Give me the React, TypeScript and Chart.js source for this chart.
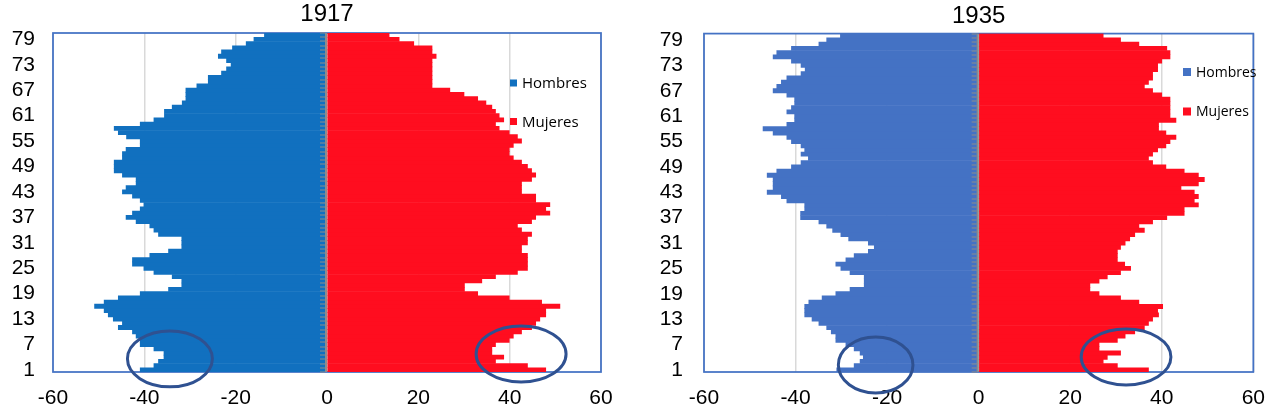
import React, { useEffect, useRef } from 'react';
import { Chart, registerables } from 'chart.js';

Chart.register(...registerables);

// ---- data ----
const ages = [
  '1','2','3','4','5','6','7','8','9','10','11','12','13','14','15','16','17','18','19','20',
  '21','22','23','24','25','26','27','28','29','30','31','32','33','34','35','36','37','38','39','40',
  '41','42','43','44','45','46','47','48','49','50','51','52','53','54','55','56','57','58','59','60',
  '61','62','63','64','65','66','67','68','69','70','71','72','73','74','75','76','77','78','79','80',
];

const hombres1917 = [
  -40.9,-37.9,-36.9,-35.7,-35.7,-37.9,-40.9,-40.9,-41.8,-42.6,
  -45.7,-44.8,-46.8,-47.9,-48.8,-50.9,-48.8,-45.7,-40.9,-34.7,
  -31.8,-31.8,-33.9,-37.9,-40.1,-42.6,-42.6,-38.8,-34.7,-31.8,
  -31.8,-31.8,-36.9,-37.9,-38.8,-41.8,-44.0,-42.6,-40.9,-40.1,
  -40.9,-42.6,-44.8,-44.0,-41.8,-41.8,-44.8,-46.6,-46.6,-46.6,
  -44.8,-44.8,-44.0,-40.9,-40.9,-43.9,-45.7,-46.6,-40.9,-37.9,
  -35.6,-35.6,-33.9,-31.7,-30.9,-30.9,-30.9,-28.5,-26.0,-26.0,
  -23.1,-22.0,-21.0,-22.0,-23.8,-23.1,-20.7,-17.7,-16.0,-13.7,
];

const mujeres1917 = [
  47.9,43.9,36.9,38.7,36.1,36.1,36.9,39.9,40.8,42.6,
  44.8,45.7,46.6,47.9,47.9,51.0,47.0,39.9,33.0,30.1,
  30.1,33.9,36.9,41.7,43.9,43.9,43.9,43.9,42.6,42.6,
  43.9,43.9,44.8,42.6,41.7,44.8,45.7,48.8,47.9,48.8,
  45.7,45.7,42.6,42.6,42.6,44.8,45.7,44.8,43.9,42.6,
  40.8,39.9,39.9,40.8,42.6,41.7,39.9,37.7,36.9,38.7,
  37.7,36.9,36.1,34.8,33.0,30.0,26.9,23.0,23.0,23.0,
  23.0,23.0,23.0,23.0,23.9,23.0,23.0,19.0,15.8,13.6,
];

const hombres1935 = [
  -31.0,-27.2,-25.9,-25.2,-25.9,-27.2,-29.0,-31.2,-31.2,-32.2,
  -33.2,-34.9,-36.4,-38.0,-38.0,-38.0,-37.1,-34.2,-31.2,-28.1,
  -25.0,-25.0,-25.0,-28.1,-30.1,-31.2,-29.0,-27.2,-24.1,-22.8,
  -24.1,-28.4,-30.1,-31.9,-33.2,-34.9,-38.9,-38.9,-38.0,-38.0,
  -41.9,-43.1,-46.2,-44.9,-44.9,-44.9,-46.2,-44.1,-40.9,-38.8,
  -37.2,-38.8,-38.0,-38.8,-40.9,-41.9,-44.9,-47.1,-41.9,-40.2,
  -40.2,-41.9,-40.9,-40.2,-40.2,-41.9,-44.9,-44.1,-43.1,-41.9,
  -38.8,-37.9,-38.8,-40.9,-44.9,-44.1,-40.9,-34.9,-33.2,-30.2,
];

const mujeres1935 = [
  37.1,30.3,27.2,28.1,31.0,26.3,26.3,30.3,32.0,34.1,
  36.2,37.1,38.0,39.3,39.1,40.2,35.0,31.0,26.3,24.3,
  24.3,26.3,28.1,31.0,33.2,31.9,30.3,30.3,30.3,31.0,
  32.0,33.0,34.1,36.2,35.0,38.0,41.1,44.9,44.9,48.0,
  47.1,48.0,47.1,44.2,48.0,49.3,48.0,44.9,40.9,38.0,
  37.1,38.0,39.1,40.9,41.8,43.1,40.9,39.3,39.3,43.1,
  41.8,41.8,41.8,41.8,41.8,40.0,38.0,36.2,37.1,38.0,
  38.0,39.1,39.1,40.0,41.8,41.8,41.1,35.0,31.0,27.2,
];

const seriesNames = ['Hombres', 'Mujeres'];
const titles = ['1917', '1935'];

// highlight ellipses: [x value, category index, x radius (value units), y radius (categories)]
const ellipses1917 = [
  [-34.4, 2.6, 9.3, 6.6],
  [42.5, 3.75, 9.85, 6.6],
];
const ellipses1935 = [
  [-22.5, 1.15, 8.15, 6.6],
  [32.2, 3.05, 9.8, 6.6],
];

const FONT = "'Liberation Sans', Arial, sans-serif";

const decor = {
  id: 'decor',
  beforeDatasetsDraw(chart: any) {
    const { ctx, chartArea: a } = chart;
    ctx.save();
    ctx.strokeStyle = '#4472C4';
    ctx.lineWidth = 1.75;
    ctx.strokeRect(a.left, a.top, a.right - a.left, a.bottom - a.top);
    ctx.restore();
  },
  afterDatasetsDraw(chart: any, _args: any, opts: any) {
    const { ctx, chartArea: a } = chart;
    const xs = chart.scales.x;
    const ys = chart.scales.y;
    ctx.save();
    // zero axis with tick marks
    const x0 = xs.getPixelForValue(0);
    ctx.fillStyle = '#8C8C8C';
    ctx.fillRect(x0 - 2, a.top, 2, a.bottom - a.top);
    const n = chart.data.labels.length;
    for (let i = 0; i <= n; i++) {
      const py = ys.getPixelForValue(i - 0.5);
      ctx.fillRect(x0 - 7, Math.round(py) - 0.5, 5, 1);
    }
    // legend
    const lg = opts.legend;
    ctx.font = `${lg.size}px 'Open Sans', sans-serif`;
    ctx.textBaseline = 'middle';
    ctx.textAlign = 'left';
    chart.data.datasets.forEach((ds: any, i: number) => {
      const lx = a.left + lg.x;
      const cy = lg.ys[i];
      ctx.fillStyle = ds.backgroundColor;
      ctx.fillRect(lx, cy - lg.box / 2, lg.box, lg.box);
      ctx.fillStyle = '#000';
      ctx.fillText(ds.label, lx + lg.box + 5, cy + 1);
    });
    // ellipses
    ctx.strokeStyle = '#2F5191';
    ctx.lineWidth = 3;
    for (const [v, idx, rv, rc] of opts.ellipses) {
      const cx = xs.getPixelForValue(v);
      const cy = ys.getPixelForValue(idx);
      const rx = Math.abs(xs.getPixelForValue(v + rv) - cx);
      const ry = Math.abs(ys.getPixelForValue(idx + rc) - cy);
      ctx.beginPath();
      ctx.ellipse(cx, cy, rx, ry, 0, 0, Math.PI * 2);
      ctx.stroke();
    }
    ctx.restore();
  },
};

function Pyramid(props: any) {
  const ref = useRef<HTMLCanvasElement>(null);
  useEffect(() => {
    const p = props;
    const chart = new Chart(ref.current as HTMLCanvasElement, {
      type: 'bar',
      data: {
        labels: ages,
        datasets: [
          { label: seriesNames[0], data: p.men, backgroundColor: p.menColor, borderWidth: 0, barPercentage: 1, categoryPercentage: 1 },
          { label: seriesNames[1], data: p.women, backgroundColor: '#FF0D1F', borderWidth: 0, barPercentage: 1, categoryPercentage: 1 },
        ],
      },
      options: {
        indexAxis: 'y',
        responsive: false,
        animation: false,
        devicePixelRatio: 1,
        layout: { padding: { left: 0, right: p.padRight, top: 0, bottom: 0 } },
        plugins: {
          legend: { display: false },
          tooltip: { enabled: false },
          title: {
            display: true,
            text: p.title,
            fullSize: false,
            color: '#000',
            font: { family: FONT, size: 24, weight: 'normal', lineHeight: 1.2 },
            padding: { top: 0, bottom: p.titlePad },
          },
          decor: { legend: p.legend, ellipses: p.ellipses },
        } as any,
        scales: {
          x: {
            type: 'linear',
            min: -60,
            max: 60,
            stacked: true,
            ticks: { stepSize: 20, color: '#000', font: { family: FONT, size: 21 }, padding: 14 },
            grid: { color: '#D9D9D9', lineWidth: 1.5, drawTicks: false },
            border: { display: false },
            afterFit: (s: any) => { s.height = 38; },
          },
          y: {
            type: 'category',
            reverse: true,
            stacked: true,
            grid: { display: false, drawTicks: false },
            border: { display: false },
            ticks: {
              autoSkip: false,
              color: '#000',
              font: { family: FONT, size: 21 },
              padding: p.yPad,
              callback: (_v: any, i: number) => (i % 6 === 0 ? ages[i] : ''),
            },
            afterFit: (s: any) => { s.width = p.yWidth; },
          },
        },
      } as any,
      plugins: [decor],
    });
    return () => chart.destroy();
  }, []);
  return (
    <canvas
      ref={ref}
      width={props.width}
      height={410}
      style={{ position: 'absolute', left: props.left, top: 0, width: props.width, height: 410 }}
    />
  );
}

export default function App() {
  return (
    <div style={{ position: 'fixed', left: 0, top: 0, width: 1279, height: 410, background: '#fff' }}>
      <Pyramid
        left={0}
        width={640}
        title={titles[0]}
        men={hombres1917}
        women={mujeres1917}
        menColor="#1170BF"
        padRight={39}
        yWidth={53}
        yPad={18}
        titlePad={4.2}
        legend={{ x: 457, ys: [83, 121.5], box: 7, size: 15 }}
        ellipses={ellipses1917}
      />
      <Pyramid
        left={640}
        width={639}
        title={titles[1]}
        men={hombres1935}
        women={mujeres1935}
        menColor="#4472C4"
        padRight={23}
        yWidth={64}
        yPad={21}
        titlePad={3.2}
        legend={{ x: 479, ys: [72, 111.5], box: 8, size: 14 }}
        ellipses={ellipses1935}
      />
    </div>
  );
}
